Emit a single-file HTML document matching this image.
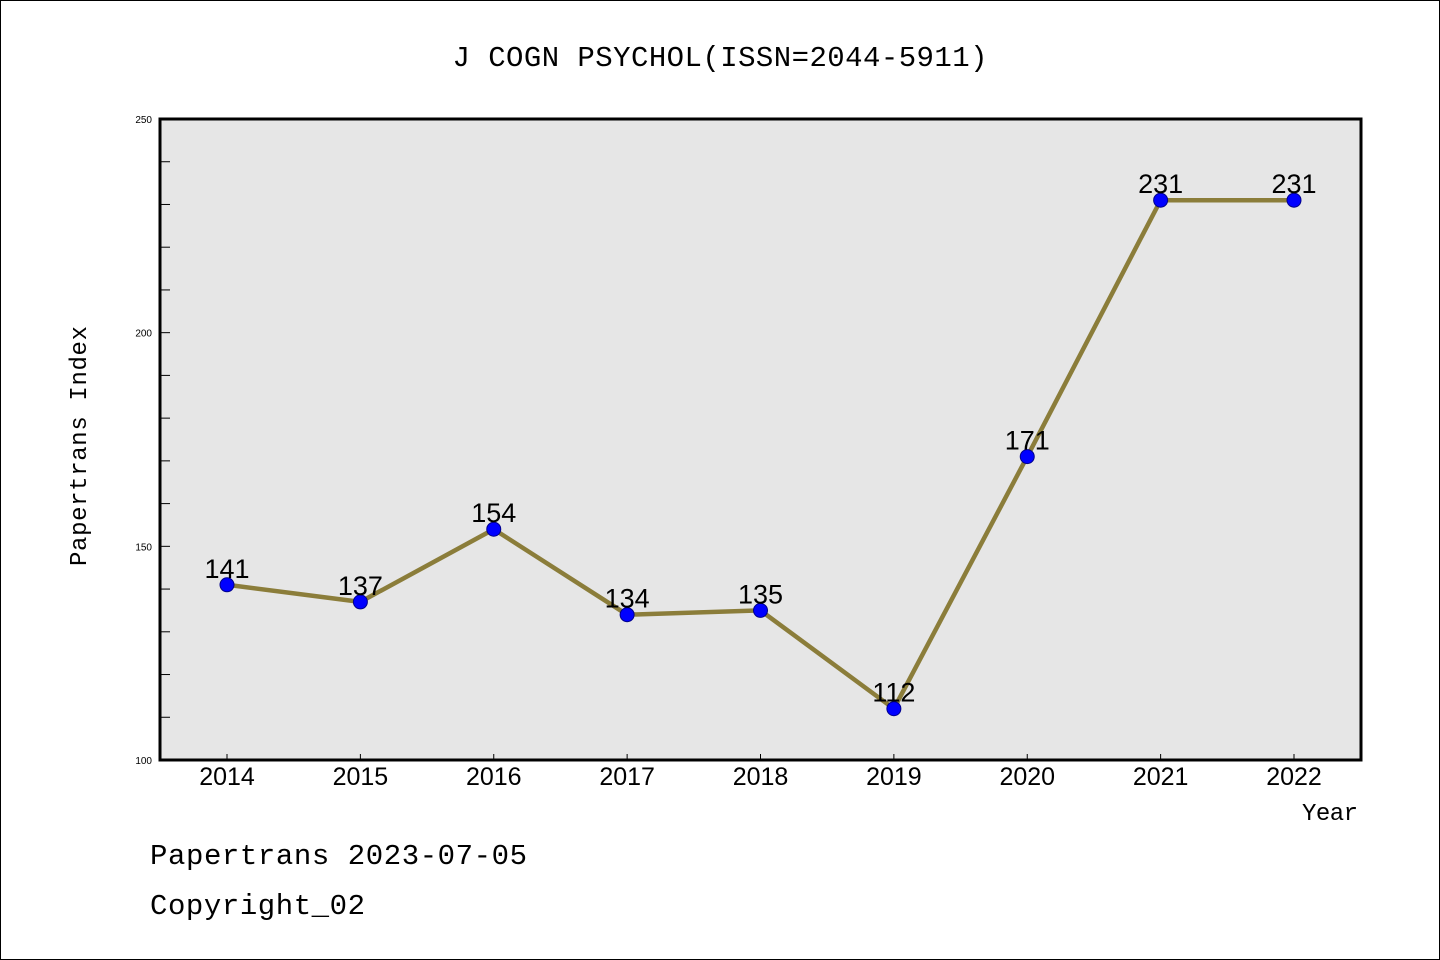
<!DOCTYPE html>
<html><head><meta charset="utf-8"><style>
body{margin:0;background:#fff}
svg{display:block}
text{font-family:"Liberation Sans","Noto Sans CJK SC",sans-serif}
.mono{font-family:"Liberation Mono","Noto Sans CJK SC",monospace}
</style></head><body>
<svg id="chart" width="1440" height="960" viewBox="0 0 1440 960">
<rect x="0.5" y="0.5" width="1439" height="959" fill="#fff" stroke="#000"/>
<text class="mono" x="720" y="66" font-size="29" text-anchor="middle" textLength="535">J COGN PSYCHOL(ISSN=2044-5911)</text>
<rect x="160" y="119" width="1201" height="641" fill="#e6e6e6"/>
<g id="ticks"></g>
<polyline id="line" fill="none" stroke="#8b7d3a" stroke-width="4.5"/>
<g id="points"></g>
<rect x="160" y="119" width="1201" height="641" fill="none" stroke="#000" stroke-width="3"/>
<text class="mono" x="86" y="446" font-size="24" text-anchor="middle" transform="rotate(-90 86 446)" textLength="240">Papertrans Index</text>
<text class="mono" x="1302" y="820" font-size="24" textLength="56">Year</text>
<text class="mono" x="150" y="864" font-size="29" textLength="377">Papertrans 2023-07-05</text>
<text class="mono" x="150" y="914" font-size="29" textLength="215">Copyright_02</text>
</svg>
<script>
const years=[2014,2015,2016,2017,2018,2019,2020,2021,2022];
const values=[141,137,154,134,135,112,171,231,231];
const yTicks=[100,150,200,250];
const NS="http://www.w3.org/2000/svg";
const X=y=>227+(y-2014)*(1294-227)/8;
const Y=v=>760-(v-100)*641/150;
const svg=document.getElementById('chart');
const tk=document.getElementById('ticks');
function mk(tag,attrs,parent){const e=document.createElementNS(NS,tag);for(const k in attrs)e.setAttribute(k,attrs[k]);parent.appendChild(e);return e;}
for(let v=110;v<250;v+=10){
  const t=mk('line',{x1:160,x2:170,y1:Y(v),y2:Y(v),stroke:'#000','stroke-width':1},tk);
  
  
}
yTicks.forEach(v=>{
  const t=mk('text',{x:152,y:Y(v)+4,'font-size':10,'text-anchor':'end'},svg);
  t.textContent=v;
  
  
});
years.forEach(y=>{
  const l=mk('line',{x1:X(y),x2:X(y),y1:754,y2:760,stroke:'#000','stroke-width':1},tk);
  
  
  const t=mk('text',{x:X(y),y:785,'font-size':25,'text-anchor':'middle'},svg);
  t.textContent=y;
  
  
});
document.getElementById('line').setAttribute('points',years.map((y,i)=>X(y)+','+Y(values[i])).join(' '));
const pg=document.getElementById('points');
years.forEach((y,i)=>{
  const c=mk('circle',{cx:X(y),cy:Y(values[i]),r:7,fill:'#0000ff',stroke:'#00008b','stroke-width':1},pg);
  
  
  const t=mk('text',{x:X(y),y:Y(values[i])-7,'font-size':27,'text-anchor':'middle'},pg);
  t.textContent=values[i];
  
  
});
</script>
</body></html>
